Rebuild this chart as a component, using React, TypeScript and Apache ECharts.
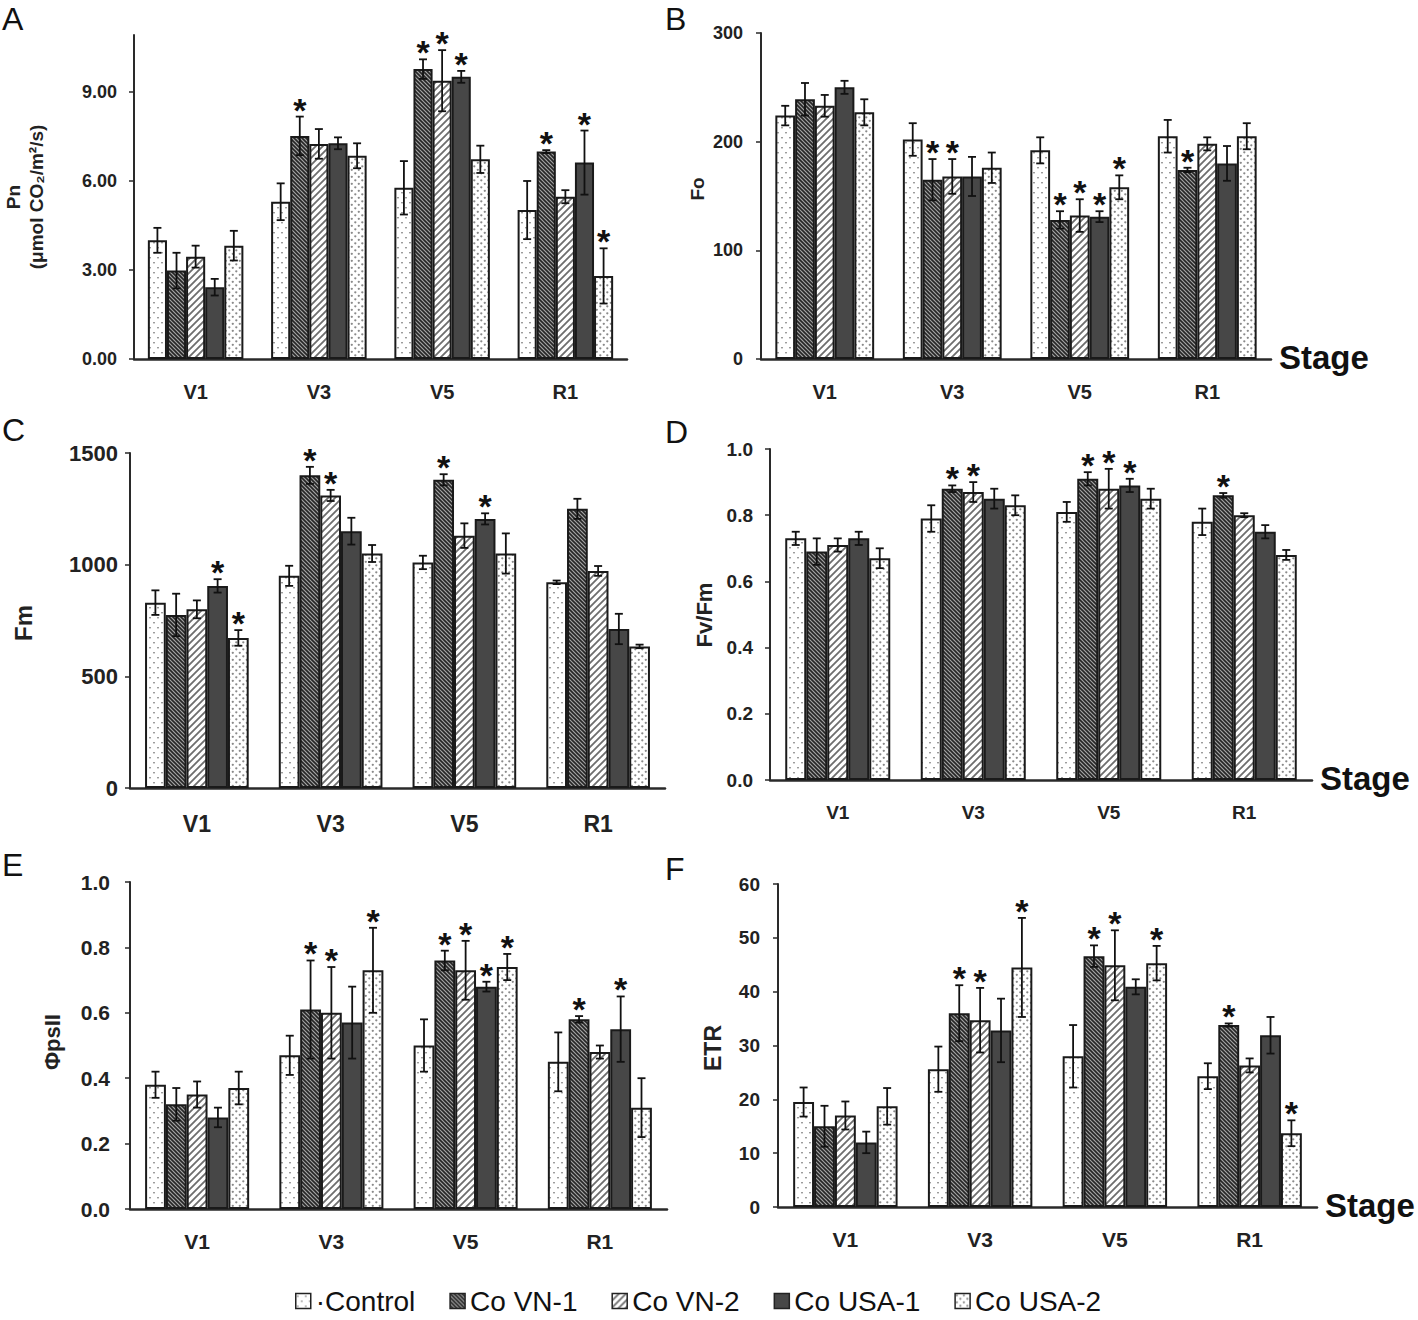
import React, { useEffect, useRef } from "react";
import * as echarts from "echarts";

// ---------------- data ----------------
const stages = ["V1", "V3", "V5", "R1"];
const treatments = ["Control", "Co VN-1", "Co VN-2", "Co USA-1", "Co USA-2"];

// A: Pn (rows = treatments, cols = stages)
const pnMean = [
  [4.0, 5.3, 5.77, 5.02],
  [2.98, 7.52, 9.77, 6.99],
  [3.45, 7.25, 9.38, 5.47],
  [2.42, 7.27, 9.51, 6.62],
  [3.82, 6.85, 6.73, 2.8],
];
const pnErr = [
  [0.42, 0.62, 0.9, 0.98],
  [0.6, 0.65, 0.33, 0.05],
  [0.37, 0.5, 1.03, 0.22],
  [0.28, 0.2, 0.2, 1.08],
  [0.5, 0.42, 0.46, 0.93],
];
const pnStar = [
  [0, 0, 0, 0],
  [0, 1, 1, 1],
  [0, 0, 1, 0],
  [0, 0, 1, 1],
  [0, 0, 0, 1],
];
const pnTicks = [0, 3, 6, 9];

// B: Fo
const foMean = [
  [224, 202, 192, 205],
  [239, 165, 128, 174],
  [233, 168, 132, 198],
  [250, 168, 131, 180],
  [227, 176, 158, 205],
];
const foErr = [
  [9, 15, 12, 15],
  [15, 19, 8, 2],
  [10, 16, 15, 6],
  [6, 18, 5, 16],
  [12, 14, 11, 12],
];
const foStar = [
  [0, 0, 0, 0],
  [0, 1, 1, 1],
  [0, 1, 1, 0],
  [0, 0, 1, 0],
  [0, 0, 1, 0],
];
const foTicks = [0, 100, 200, 300];

// C: Fm
const fmMean = [
  [830, 950, 1010, 921],
  [775, 1400, 1380, 1250],
  [800, 1310, 1130, 972],
  [905, 1150, 1205, 712],
  [672, 1050, 1050, 634],
];
const fmErr = [
  [55, 45, 30, 8],
  [95, 38, 25, 45],
  [40, 25, 55, 22],
  [30, 60, 25, 68],
  [35, 38, 90, 8],
];
const fmStar = [
  [0, 0, 0, 0],
  [0, 1, 1, 0],
  [0, 1, 0, 0],
  [1, 0, 1, 0],
  [1, 0, 0, 0],
];
const fmTicks = [0, 500, 1000, 1500];

// D: Fv/Fm
const fvfmMean = [
  [0.73, 0.79, 0.81, 0.78],
  [0.69, 0.88, 0.91, 0.86],
  [0.71, 0.87, 0.88, 0.8],
  [0.73, 0.85, 0.89, 0.75],
  [0.67, 0.83, 0.85, 0.68],
];
const fvfmErr = [
  [0.02, 0.04, 0.03, 0.04],
  [0.04, 0.01, 0.02, 0.007],
  [0.02, 0.03, 0.06, 0.006],
  [0.02, 0.03, 0.02, 0.02],
  [0.03, 0.03, 0.03, 0.015],
];
const fvfmStar = [
  [0, 0, 0, 0],
  [0, 1, 1, 1],
  [0, 1, 1, 0],
  [0, 0, 1, 0],
  [0, 0, 0, 0],
];
const ratioTicks = [0, 0.2, 0.4, 0.6, 0.8, 1.0];

// E: ΦPSII
const psiiMean = [
  [0.38, 0.47, 0.5, 0.45],
  [0.32, 0.61, 0.76, 0.58],
  [0.35, 0.6, 0.73, 0.48],
  [0.28, 0.57, 0.68, 0.55],
  [0.37, 0.73, 0.74, 0.31],
];
const psiiErr = [
  [0.04, 0.06, 0.08, 0.09],
  [0.05, 0.15, 0.03, 0.01],
  [0.04, 0.14, 0.09, 0.02],
  [0.03, 0.11, 0.015, 0.1],
  [0.05, 0.13, 0.04, 0.09],
];
const psiiStar = [
  [0, 0, 0, 0],
  [0, 1, 1, 1],
  [0, 1, 1, 0],
  [0, 0, 1, 1],
  [0, 1, 1, 0],
];

// F: ETR
const etrMean = [
  [19.5, 25.6, 28, 24.3],
  [15, 36, 46.6, 33.8],
  [17, 34.7, 44.9, 26.3],
  [12, 32.8, 40.9, 31.9],
  [18.7, 44.5, 45.3, 13.7],
];
const etrErr = [
  [2.7, 4.2, 5.8, 2.4],
  [3.8, 5.2, 2, 0.3],
  [2.6, 6, 6.5, 1.3],
  [2, 5.9, 1.4, 3.4],
  [3.4, 9.2, 3.2, 2.4],
];
const etrStar = [
  [0, 0, 0, 0],
  [0, 1, 1, 1],
  [0, 1, 1, 0],
  [0, 0, 0, 0],
  [0, 1, 1, 1],
];
const etrTicks = [0, 10, 20, 30, 40, 50, 60];

const panels = [
  { letter: "A", title: "Pn\n(μmol CO₂/m²/s)", mean: pnMean, err: pnErr, star: pnStar, max: 10.92, interval: 3, ticks: pnTicks, dec: 2, stage: false },
  { letter: "B", title: "Fo", mean: foMean, err: foErr, star: foStar, max: 300, interval: 100, ticks: foTicks, dec: 0, stage: true },
  { letter: "C", title: "Fm", mean: fmMean, err: fmErr, star: fmStar, max: 1500, interval: 500, ticks: fmTicks, dec: 0, stage: false },
  { letter: "D", title: "Fv/Fm", mean: fvfmMean, err: fvfmErr, star: fvfmStar, max: 1, interval: 0.2, ticks: ratioTicks, dec: 1, stage: true },
  { letter: "E", title: "ΦpsII", mean: psiiMean, err: psiiErr, star: psiiStar, max: 1, interval: 0.2, ticks: ratioTicks, dec: 1, stage: false },
  { letter: "F", title: "ETR", mean: etrMean, err: etrErr, star: etrStar, max: 60, interval: 10, ticks: etrTicks, dec: 0, stage: true },
];

// ---------------- layout ----------------
const FONT = '"Liberation Sans", Arial, Helvetica, sans-serif';
const CAT_GAP = 0.225;
const layouts = [
  { left: 134, top: 35, width: 493, height: 324, yFont: 18, xFont: 20, yMargin: 17, xMargin: 23, tx: 25, ty: 197, tFont: 19, lx: 2, ly: 19 },
  { left: 761, top: 33, width: 510, height: 326, yFont: 18, xFont: 20, yMargin: 18, xMargin: 23, tx: 697, ty: 189, tFont: 19, lx: 665, ly: 19 },
  { left: 130, top: 453, width: 535, height: 335, yFont: 22, xFont: 23, yMargin: 12, xMargin: 24, tx: 23, ty: 623, tFont: 24, lx: 2, ly: 430 },
  { left: 770, top: 449, width: 542, height: 331, yFont: 19, xFont: 19, yMargin: 17, xMargin: 23, tx: 704, ty: 615, tFont: 22, lx: 665, ly: 432 },
  { left: 130, top: 882, width: 537, height: 327, yFont: 21, xFont: 21, yMargin: 20, xMargin: 22, tx: 52, ty: 1042, tFont: 22, lx: 2, ly: 865 },
  { left: 778, top: 884, width: 539, height: 323, yFont: 19, xFont: 21, yMargin: 18, xMargin: 22, tx: 713, ty: 1048, tFont: 23, lx: 665, ly: 869 },
];

// ---------------- patterns ----------------
function tile(w: number, h: number, draw: (ctx: CanvasRenderingContext2D) => void) {
  const c = document.createElement("canvas");
  c.width = w;
  c.height = h;
  const ctx = c.getContext("2d") as CanvasRenderingContext2D;
  ctx.fillStyle = "#ffffff";
  ctx.fillRect(0, 0, w, h);
  draw(ctx);
  return { image: c.toDataURL(), repeat: "repeat", imageWidth: w, imageHeight: h } as any;
}

function makePatterns() {
  const control = tile(8, 10, (ctx) => {
    ctx.fillStyle = "#9c9c9c";
    ctx.fillRect(1, 2, 2, 1.4);
    ctx.fillRect(5, 7, 2, 1.4);
  });
  const vn1 = tile(4, 4, (ctx) => {
    ctx.fillStyle = "#a4a4a4";
    ctx.fillRect(0, 0, 4, 4);
    ctx.strokeStyle = "#262626";
    ctx.lineWidth = 1.6;
    ctx.beginPath();
    ctx.moveTo(-1, -1); ctx.lineTo(5, 5);
    ctx.moveTo(-1, 3); ctx.lineTo(1, 5);
    ctx.moveTo(3, -1); ctx.lineTo(5, 1);
    ctx.stroke();
  });
  const vn2 = tile(7, 7, (ctx) => {
    ctx.strokeStyle = "#6e6e6e";
    ctx.lineWidth = 1.8;
    ctx.beginPath();
    ctx.moveTo(-1, 8); ctx.lineTo(8, -1);
    ctx.moveTo(-1, 1); ctx.lineTo(1, -1);
    ctx.moveTo(6, 8); ctx.lineTo(8, 6);
    ctx.stroke();
  });
  const usa1 = "#474747";
  const usa2 = tile(7, 7, (ctx) => {
    ctx.fillStyle = "#8a8a8a";
    ctx.beginPath();
    ctx.arc(1.8, 1.8, 1.15, 0, Math.PI * 2);
    ctx.arc(5.3, 5.3, 1.15, 0, Math.PI * 2);
    ctx.fill();
  });
  return [control, vn1, vn2, usa1, usa2];
}

// ---------------- error bars + asterisks ----------------
function makeErrRender(sIdx: number) {
  return (params: any, api: any) => {
    const cat = api.value(0) as number;
    const mean = api.value(1) as number;
    const err = api.value(2) as number;
    const star = api.value(3) as number;
    const base = api.coord([cat, mean]);
    const band = api.size([1, 0])[0];
    const groupW = band * (1 - CAT_GAP);
    const bw = groupW / 5;
    const x = base[0] - groupW / 2 + bw * (sIdx + 0.5);
    const yTop = api.coord([cat, mean + err])[1];
    const yBot = api.coord([cat, Math.max(0, mean - err)])[1];
    const cap = 4;
    const ls = { stroke: "#111111", lineWidth: 1.8 };
    const children: any[] = [
      { type: "line", shape: { x1: x, y1: yTop, x2: x, y2: yBot }, style: ls },
      { type: "line", shape: { x1: x - cap, y1: yTop, x2: x + cap, y2: yTop }, style: ls },
      { type: "line", shape: { x1: x - cap, y1: yBot, x2: x + cap, y2: yBot }, style: ls },
    ];
    if (star) {
      children.push({
        type: "text",
        x: x,
        y: yTop - 7,
        style: {
          text: "*",
          fontSize: 34,
          fontWeight: "bold",
          fontFamily: FONT,
          fill: "#111111",
          align: "center",
          verticalAlign: "middle",
        },
      });
    }
    return { type: "group", children };
  };
}

function buildOption() {
  const fills = makePatterns();
  const grid: any[] = [];
  const xAxis: any[] = [];
  const yAxis: any[] = [];
  const bars: any[] = [];
  const errs: any[] = [];
  const graphic: any[] = [];

  panels.forEach((p, i) => {
    const l = layouts[i];
    grid.push({ left: l.left, top: l.top, width: l.width, height: l.height, outerBoundsMode: "none" });
    xAxis.push({
      type: "category",
      gridIndex: i,
      data: stages,
      axisTick: { show: false },
      axisLine: { show: true, lineStyle: { color: "#2a2a2a", width: 2.5 } },
      axisLabel: { fontSize: l.xFont, fontWeight: "bold", color: "#222", margin: l.xMargin, fontFamily: FONT },
    });
    yAxis.push({
      type: "value",
      gridIndex: i,
      min: 0,
      max: p.max,
      interval: p.interval,
      splitLine: { show: false },
      axisLine: { show: true, lineStyle: { color: "#2a2a2a", width: 2 } },
      axisTick: { show: true, length: 5, lineStyle: { color: "#2a2a2a", width: 1.5 }, customValues: p.ticks },
      axisLabel: {
        customValues: p.ticks,
        formatter: (v: number) => {
          const hit = p.ticks.some((t) => Math.abs(t - v) < 1e-6);
          return hit ? v.toFixed(p.dec) : "";
        },
        fontSize: l.yFont,
        fontWeight: "bold",
        color: "#222",
        margin: l.yMargin,
        fontFamily: FONT,
      },
    });
    treatments.forEach((name, s) => {
      bars.push({
        type: "bar",
        name,
        xAxisIndex: i,
        yAxisIndex: i,
        barGap: "0%",
        barCategoryGap: CAT_GAP * 100 + "%",
        silent: true,
        itemStyle: { color: fills[s], borderColor: "#1a1a1a", borderWidth: 2 },
        data: p.mean[s],
      });
      errs.push({
        type: "custom",
        name,
        xAxisIndex: i,
        yAxisIndex: i,
        z: 5,
        silent: true,
        encode: { x: 0, y: 1 },
        renderItem: makeErrRender(s),
        data: stages.map((_, k) => [k, p.mean[s][k], p.err[s][k], p.star[s][k]]),
      });
    });
    // panel letter
    graphic.push({
      type: "text",
      x: l.lx,
      y: l.ly,
      style: { text: p.letter, fontSize: 32, fontFamily: FONT, fill: "#111", align: "left", verticalAlign: "middle" },
    });
    // y-axis title
    graphic.push({
      type: "text",
      x: l.tx,
      y: l.ty,
      rotation: Math.PI / 2,
      style: {
        text: p.title,
        fontSize: l.tFont,
        fontWeight: "bold",
        fontFamily: FONT,
        fill: "#222",
        align: "center",
        verticalAlign: "middle",
        lineHeight: l.tFont + 4,
      },
    });
    if (p.stage) {
      graphic.push({
        type: "text",
        x: l.left + l.width + 8,
        y: l.top + l.height - 2,
        style: { text: "Stage", fontSize: 33, fontWeight: "bold", fontFamily: FONT, fill: "#111", align: "left", verticalAlign: "middle" },
      });
    }
  });

  return {
    animation: false,
    backgroundColor: "#ffffff",
    textStyle: { fontFamily: FONT },
    grid,
    xAxis,
    yAxis,
    legend: {
      data: treatments,
      left: 290,
      top: 1282,
      icon: "rect",
      itemWidth: 15,
      itemHeight: 15,
      itemGap: 34,
      selectedMode: false,
      formatter: (n: string) => (n === "Control" ? "·Control" : n),
      itemStyle: { borderColor: "#222", borderWidth: 1.5 },
      textStyle: { fontSize: 28, lineHeight: 28, fontFamily: FONT, color: "#111" },
    },
    graphic,
    series: [...bars, ...errs],
  };
}

export default function App() {
  const ref = useRef<HTMLDivElement>(null);
  useEffect(() => {
    const chart = echarts.init(ref.current as HTMLDivElement, undefined, { renderer: "svg" });
    chart.setOption(buildOption() as any);
    return () => chart.dispose();
  }, []);
  return (
    <div
      ref={ref}
      style={{ position: "absolute", left: 0, top: 0, width: 1418, height: 1320, background: "#ffffff" }}
    />
  );
}
